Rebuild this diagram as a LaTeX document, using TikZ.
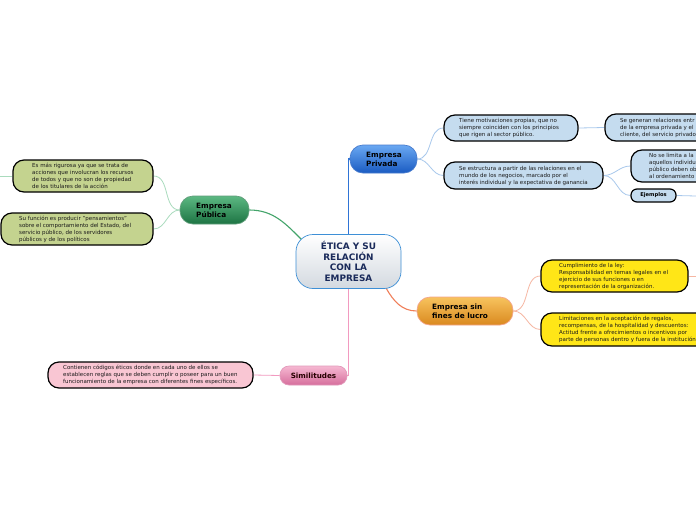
\documentclass[tikz,border=0pt]{standalone}
\usepackage{fontspec}
\setmainfont{DejaVu Sans}
\usetikzlibrary{backgrounds}
\definecolor{cbord}{HTML}{3D8FD6}
\definecolor{ctext}{HTML}{1A2A5A}
\definecolor{cbot}{HTML}{D3D9E0}
\definecolor{ptop}{HTML}{6AA8F2}
\definecolor{pbot}{HTML}{1A5BC2}
\definecolor{gtop}{HTML}{5CB882}
\definecolor{gbot}{HTML}{1D7443}
\definecolor{otop}{HTML}{F7C35E}
\definecolor{obot}{HTML}{DA891F}
\definecolor{stop}{HTML}{F6B8D2}
\definecolor{sbot}{HTML}{D66E9C}
\definecolor{fblue}{HTML}{C5DCEF}
\definecolor{fgreen}{HTML}{C4D38F}
\definecolor{fyellow}{HTML}{FFE617}
\definecolor{fpink}{HTML}{F9C6D3}
\definecolor{lblue}{HTML}{2F74D6}
\definecolor{lblues}{HTML}{A8C8EC}
\definecolor{lgreen}{HTML}{43A46A}
\definecolor{lgreens}{HTML}{A9DBBD}
\definecolor{lorange}{HTML}{F07F5A}
\definecolor{loranges}{HTML}{F6B7A3}
\definecolor{lpink}{HTML}{F29AC0}
\definecolor{tdark}{HTML}{1A1A1A}
\tikzset{
  mainbox/.style={draw, line width=0.7pt, rounded corners=13pt, inner sep=0pt},
  subbox/.style={draw=black, line width=1.2pt, fill=#1, rounded corners=11pt, inner sep=0pt},
  smalltxt/.style={anchor=west, inner sep=0pt, align=left, text=tdark, font=\fontsize{5.5}{7}\selectfont},
  maintxt/.style={anchor=west, inner sep=0pt, align=left, text=black, font=\fontsize{7.3}{9}\selectfont\bfseries},
  subline/.style={line width=0.8pt},
  mainline/.style={line width=1.1pt}
}
\begin{document}
\begin{tikzpicture}[x=1pt,y=-1pt]
\clip (0,0) rectangle (696,520);

\coordinate (stubL) at (0,176);
\coordinate (stubE) at (696,196);
\coordinate (stubC) at (696,276);
\coordinate (cg) at (303,241);
\coordinate (co) at (386,288);

% main nodes
\node[mainbox, draw=cbord, top color=white, bottom color=cbot, minimum width=105pt, minimum height=54pt, rounded corners=17pt,
  text=ctext, align=center, font=\fontsize{8.9}{10.6}\selectfont\bfseries] (center) at (348.5,261.5) {ÉTICA Y SU\\RELACIÓN\\CON LA\\EMPRESA};
\node[mainbox, draw=pbot!80!white, top color=ptop, bottom color=pbot, minimum width=67pt, minimum height=28pt] (priv) at (383.5,159) {};
\node[maintxt] (privt) at (366,159) {Empresa\\Privada};
\node[mainbox, draw=gbot!70!white, top color=gtop, bottom color=gbot, minimum width=69pt, minimum height=28pt] (pub) at (214.5,210) {};
\node[maintxt] (pubt) at (196,210) {Empresa\\Pública};
\node[mainbox, draw=lorange!70!white, top color=otop, bottom color=obot, minimum width=96pt, minimum height=28pt] (sin) at (465,311) {};
\node[maintxt] (sint) at (432,311) {Empresa sin\\fines de lucro};
\node[mainbox, draw=sbot!70!white, top color=stop, bottom color=sbot, minimum width=67pt, minimum height=19pt, rounded corners=9pt,
  text=black!85!red, font=\fontsize{7.2}{9}\selectfont\bfseries] (sim) at (313.5,375.5) {Similitudes};

% sub nodes
\node[subbox=fblue, minimum width=134pt, minimum height=26pt] (tiene) at (511,128) {};
\node[smalltxt] (tienet) at (459,128) {Tiene motivaciones propias, que no\\siempre coinciden con los principios\\que rigen al sector público.};
\node[subbox=fblue, minimum width=159pt, minimum height=27pt] (estr) at (523.5,175.5) {};
\node[smalltxt] (estrt) at (459,175.5) {Se estructura a partir de las relaciones en el\\mundo de los negocios, marcado por el\\interés individual y la expectativa de ganancia};
\node[subbox=fblue, minimum width=115pt, minimum height=27pt] (gen) at (662.5,127.5) {};
\node[smalltxt] (gent) at (620,127.5) {Se generan relaciones entr\\de la empresa privada y el\\cliente, del servicio privado};
\node[subbox=fblue, minimum width=109pt, minimum height=32pt] (nolim) at (685.5,166) {};
\node[smalltxt] (nolimt) at (649,166) {No se limita a la\\aquellos individu\\público deben ob\\al ordenamiento};
\node[subbox=fblue, minimum width=45pt, minimum height=13pt, rounded corners=6pt, font=\fontsize{5.2}{7}\selectfont\bfseries] (ejem) at (653.5,195.5) {Ejemplos};

\node[subbox=fgreen, minimum width=140pt, minimum height=32pt] (esmas) at (83,176) {};
\node[smalltxt] (esmast) at (32,176) {Es más rigurosa ya que se trata de\\acciones que involucran los recursos\\de todos y que no son de propiedad\\de los titulares de la acción};
\node[subbox=fgreen, minimum width=152pt, minimum height=32pt] (sufun) at (77,229) {};
\node[smalltxt] (sufunt) at (19,229) {Su función es producir "pensamientos"\\sobre el comportamiento del Estado, del\\servicio público, de los servidores\\públicos y de los políticos};

\node[subbox=fyellow, minimum width=147pt, minimum height=32pt] (cump) at (614.5,276) {};
\node[smalltxt] (cumpt) at (559,276) {Cumplimiento de la ley:\\Responsabilidad en temas legales en el\\ejercicio de sus funciones o en\\representación de la organización.};
\node[subbox=fyellow, minimum width=219pt, minimum height=33pt] (limit) at (650.5,329.5) {};
\node[smalltxt] (limitt) at (559,329.5) {Limitaciones en la aceptación de regalos,\\recompensas, de la hospitalidad y descuentos:\\Actitud frente a ofrecimientos o incentivos por\\parte de personas dentro y fuera de la institución};

\node[subbox=fpink, minimum width=205pt, minimum height=26pt] (cont) at (150.5,375) {};
\node[smalltxt] (contt) at (63,375) {Contienen códigos éticos donde en cada uno de ellos se\\establecen reglas que se deben cumplir o poseer para un buen\\funcionamiento de la empresa con diferentes fines específicos.};

% connectors
\begin{pgfonlayer}{background}
\fill[white] (0,0) rectangle (696,520);
\draw[mainline, lblue] (center.north) |- (priv.west);
\draw[mainline, lpink] (center.south) |- (sim.east);
\draw[mainline, lgreen] (pub.east) to[out=0,in=135] (cg);
\draw[mainline, lorange] (co) to[out=-60,in=180] (sin.west);

\draw[subline, lblues] (priv.east) to[out=0,in=180] (tiene.west);
\draw[subline, lblues] (priv.east) to[out=0,in=180] (estr.west);
\draw[subline, lblues] (tiene.east) -- (gen.west);
\draw[subline, lblues] (estr.east) to[out=0,in=180] (nolim.west);
\draw[subline, lblues] (estr.east) to[out=0,in=180] (ejem.west);
\draw[subline, lblues] (ejem.east) -- (stubE);

\draw[subline, lgreens] (pub.west) to[out=180,in=0] (esmas.east);
\draw[subline, lgreens] (pub.west) to[out=180,in=0] (sufun.east);
\draw[subline, lgreens] (esmas.west) -- (stubL);

\draw[subline, loranges] (sin.east) to[out=0,in=180] (cump.west);
\draw[subline, loranges] (sin.east) to[out=0,in=180] (limit.west);
\draw[subline, loranges] (cump.east) -- (stubC);

\draw[subline, lpink] (sim.west) -- (cont.east);
\end{pgfonlayer}
\end{tikzpicture}
\end{document}
